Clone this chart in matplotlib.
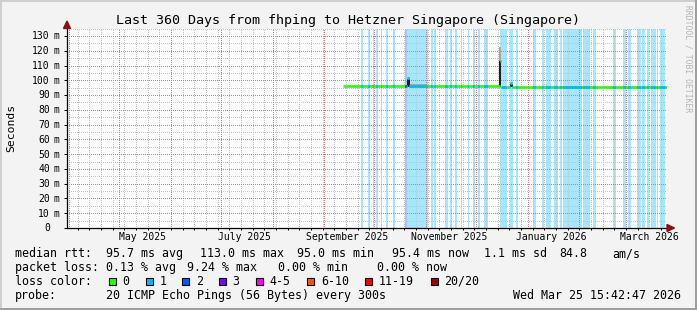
#!/usr/bin/env python
"""Last 360 days latency graph (smokeping style), fhping -> Hetzner Singapore."""

import matplotlib

matplotlib.use("Agg")
import matplotlib.dates as mdates
import matplotlib.pyplot as plt
import matplotlib.transforms as mtransforms
import pandas as pd
from matplotlib.patches import Polygon, Rectangle
from matplotlib.ticker import FixedLocator, MultipleLocator

W, H = 697, 310
MONO = "DejaVu Sans Mono"

END = pd.Timestamp("2026-03-25 15:42:47")
START = END - pd.Timedelta(days=360)

# median rtt (ms), each value held until the next start
median_start = ["2025-09-12 05:00", "2025-10-20 10:00", "2025-10-21 16:00",
                "2025-12-15 04:00", "2025-12-15 20:00", "2025-12-21 10:00",
                "2025-12-22 14:00"]
median_ms = [96.0, 101.5, 96.0, 113.0, 95.3, 98.0, 95.3]

# days with packet loss (pings lost out of 20)
loss_start = ["2025-09-23 00:00", "2025-09-27 00:00", "2025-09-30 00:00",
              "2025-10-02 05:00", "2025-10-04 19:00", "2025-10-08 00:00",
              "2025-10-12 00:00", "2025-10-19 10:00", "2025-10-20 10:00",
              "2025-11-03 19:00", "2025-11-06 00:00", "2025-11-12 10:00",
              "2025-11-15 10:00", "2025-11-18 10:00", "2025-11-21 19:00",
              "2025-11-26 00:00", "2025-11-29 00:00", "2025-12-02 00:00",
              "2025-12-06 00:00", "2025-12-15 10:00", "2025-12-21 10:00",
              "2025-12-24 19:00", "2026-01-04 10:00", "2026-01-09 19:00",
              "2026-01-12 00:00", "2026-01-17 00:00", "2026-01-20 10:00",
              "2026-01-22 10:00", "2026-01-24 00:00", "2026-02-03 10:00",
              "2026-02-09 10:00", "2026-02-21 00:00", "2026-02-27 10:00",
              "2026-03-02 10:00", "2026-03-07 19:00", "2026-03-10 19:00",
              "2026-03-13 10:00", "2026-03-16 05:00", "2026-03-19 10:00",
              "2026-03-21 10:00"]
loss_days = [1.2, 1.2, 0.6, 1.2, 0.6, 1.2, 1.4, 1.0, 12.6, 1.2,
             1.0, 1.8, 1.0, 1.0, 1.0, 0.8, 1.4, 1.4, 2.0, 4.0,
             2.0, 1.2, 1.4, 1.2, 3.0, 2.4, 1.0, 1.4, 9.4, 4.0,
             1.4, 2.0, 1.4, 1.6, 2.2, 1.6, 1.2, 2.6, 1.0, 3.0]
loss_pings = [1, 1, 1, 1, 1, 1, 1, 2, 1, 1,
              1, 1, 1, 1, 1, 1, 1, 1, 1, 1,
              1, 1, 1, 1, 1, 1, 1, 1, 1, 1,
              1, 1, 1, 1, 1, 1, 1, 1, 1, 1]

# smoke (spread of the pings) where it is visible
dense_start = ["2025-10-20 10:00", "2025-12-15 00:00", "2025-12-21 10:00"]
dense_days = [1.8, 1.3, 1.6]
dense_low = [95.5, 95.3, 95.2]
dense_high = [100.8, 113.0, 97.4]

faint_start = ["2025-10-21 14:00", "2025-12-15 00:00"]
faint_days = [10.5, 1.0]
faint_low = [96.4, 113.0]
faint_high = [97.4, 122.7]

y_ticks = list(range(0, 140, 10))
x_label_at = ["2025-05-15", "2025-07-15", "2025-09-15",
              "2025-11-15", "2026-01-15", "2026-03-15"]
x_labels = ["May 2025", "July 2025", "September 2025",
            "November 2025", "January 2026", "March 2026"]

rtt_stats = [95.7, 113.0, 95.0, 95.4]   # avg, max, min, now (ms)
rtt_sd = 1.1
rtt_am = 84.8
loss_stats = [0.13, 9.24, 0.00, 0.00]   # avg, max, min, now (%)

loss_names = ["0", "1", "2", "3", "4-5", "6-10", "11-19", "20/20"]
loss_colors = ["#26ff00", "#00b8ff", "#0059ff", "#7e00ff",
               "#ff00ff", "#ff5500", "#ff0000", "#a10000"]

GRID_MAJOR = "#f07070"
GRID_MINOR = "#c4c4c4"
ARROW = "#8c1010"
YMAX = 135


def fx(px):
    return px / W


def fy(py):
    return 1 - py / H


def num(s):
    return mdates.date2num(pd.to_datetime(s))


fig = plt.figure(figsize=(W / 100, H / 100), dpi=100, facecolor="#f3f3f3")
ax = fig.add_axes([fx(67), fy(228), 600 / W, (228 - 28.6) / H])
ax.set_facecolor("white")
x_lo, x_hi = num(START), num(END)
ax.set_xlim(x_lo, x_hi)
ax.set_ylim(0, YMAX)

# loss background stripes
spans = []
for s, d, n in zip(loss_start, loss_days, loss_pings):
    x0 = num(s)
    sp = ax.axvspan(x0, x0 + d, color=loss_colors[n], alpha=0.35, lw=0, zorder=1)
    spans.append((sp, n))

# grid, dotted 1px on / 1px off (offset keeps dots on whole pixels)
dots = (0.5, (1, 1))
weeks = mdates.WeekdayLocator(byweekday=mdates.SU).tick_values(
    START.to_pydatetime(), END.to_pydatetime())
months = mdates.MonthLocator().tick_values(START.to_pydatetime(), END.to_pydatetime())
weeks = [w for w in weeks if x_lo < w < x_hi]
months = [m for m in months if x_lo < m < x_hi]
y_minor = MultipleLocator(5).tick_values(0, YMAX)
y_minor = [v for v in y_minor if 0 < v <= YMAX and v % 10]
y_major = [v for v in y_ticks if v > 0]

ax.vlines(weeks, 0, YMAX, colors=GRID_MINOR, linestyles=[dots], lw=0.72, zorder=1.5)
ax.hlines(y_minor, x_lo, x_hi, colors=GRID_MINOR, linestyles=[dots], lw=0.72, zorder=1.5)
ax.vlines(months, 0, YMAX, colors=GRID_MAJOR, linestyles=[dots], lw=0.72, zorder=1.6)
ax.hlines(y_major, x_lo, x_hi, colors=GRID_MAJOR, linestyles=[dots], lw=0.72, zorder=1.6)

# smoke
ax.bar(num(faint_start), [h - l for h, l in zip(faint_high, faint_low)],
       width=faint_days, bottom=faint_low, align="edge", color="#a8a8a8",
       lw=0, zorder=2.5)
ax.bar(num(dense_start), [h - l for h, l in zip(dense_high, dense_low)],
       width=dense_days, bottom=dense_low, align="edge", color="#1e1e1e",
       lw=0, zorder=2.6)

# median line, green where no loss, loss colour inside loss stripes
m0 = num(median_start)
m1 = list(m0[1:]) + [x_hi]
ax.hlines(median_ms, m0, m1, colors=loss_colors[0], lw=1.9, zorder=3)
for sp, n in spans:
    lc = ax.hlines(median_ms, m0, m1, colors=loss_colors[n], lw=1.9, zorder=3.1)
    lc.set_clip_path(sp)

# axes frame, ticks
for side in ("top", "right"):
    ax.spines[side].set_visible(False)
for side in ("left", "bottom"):
    ax.spines[side].set_color("black")
    ax.spines[side].set_linewidth(0.9)
ax.set_yticks(y_ticks)
ax.xaxis.set_major_locator(FixedLocator(num(x_label_at)))
ax.set_xticklabels(x_labels)
ax.xaxis.set_minor_locator(FixedLocator(weeks))
ax.tick_params(axis="y", which="major", length=3 * 0.72, width=0.72,
               labelleft=False)
ax.tick_params(axis="x", which="major", length=0, pad=3.0, labelsize=7.05)
ax.tick_params(axis="x", which="minor", length=2 * 0.72, width=0.72)
for lab in ax.get_xticklabels():
    lab.set_family(MONO)

ylab_tr = mtransforms.blended_transform_factory(fig.transFigure, ax.transData)
ylab_tr = ylab_tr + mtransforms.ScaledTranslation(0, -3.4 / 100, fig.dpi_scale_trans)
for v in y_ticks:
    ax.text(fx(49.8), v, f"{v}", transform=ylab_tr, ha="right", va="baseline",
            family=MONO, size=7.05, clip_on=False)
    if v:
        ax.text(fx(53.8), v, "m", transform=ylab_tr, ha="left", va="baseline",
                family=MONO, size=7.05, clip_on=False)

# arrows
fig.patches.append(Polygon([(fx(63.5), fy(28.5)), (fx(70.5), fy(28.5)), (fx(67), fy(21))],
                           closed=True, color=ARROW, transform=fig.transFigure))
fig.patches.append(Polygon([(fx(667), fy(224.5)), (fx(667), fy(231.5)), (fx(674.5), fy(228))],
                           closed=True, color=ARROW, transform=fig.transFigure))

# titles
fig.text(fx(347.5), fy(24), "Last 360 Days from fhping to Hetzner Singapore (Singapore)",
         ha="center", va="baseline", family=MONO, size=9.6)
fig.text(fx(11), fy(128), "Seconds", rotation=90, ha="center", va="center",
         family=MONO, size=8.2)
fig.text(fx(688.3), fy(59), "RRDTOOL / TOBI OETIKER", rotation=270, ha="center",
         va="center", family=MONO, size=5.8, color="#b4b4b4")

# legend
LS = 8.41
rows = [257.3, 271.1, 284.9, 298.7]
line1 = [(16, "median rtt:"),
         (107.3, f"{rtt_stats[0]:.1f} ms avg"),
         (200.7, f"{rtt_stats[1]:.1f} ms max"),
         (297.7, f"{rtt_stats[2]:.1f} ms min"),
         (393.3, f"{rtt_stats[3]:.1f} ms now"),
         (485.0, f"{rtt_sd:.1f} ms sd"),
         (560.0, f"{rtt_am:.1f}"),
         (613.3, "am/s")]
line2 = [(16, "packet loss:"),
         (107.3, f"{loss_stats[0]:.2f} % avg"),
         (188.3, f"{loss_stats[1]:.2f} % max"),
         (279.3, f"{loss_stats[2]:.2f} % min"),
         (377.7, f"{loss_stats[3]:.2f} % now")]
line4 = [(16, "probe:"),
         (107.3, "20 ICMP Echo Pings (56 Bytes) every 300s")]
for row, items in ((rows[0], line1), (rows[1], line2), (rows[3], line4)):
    for x, t in items:
        fig.text(fx(x - 0.8), fy(row), t, ha="left", va="baseline",
                 family=MONO, size=LS)
fig.text(fx(681), fy(rows[3]), "Wed Mar 25 15:42:47 2026", ha="right",
         va="baseline", family=MONO, size=LS)

fig.text(fx(15.2), fy(rows[2]), "loss color:", ha="left", va="baseline",
         family=MONO, size=LS)
box_x = [109, 145.7, 182.3, 219, 256, 307.3, 365, 430.7]
for bx, name, col in zip(box_x, loss_names, loss_colors):
    fig.patches.append(Rectangle((fx(bx), fy(284.8)), 7 / W, 7 / H, facecolor=col,
                                 edgecolor="black", lw=0.8,
                                 transform=fig.transFigure))
    fig.text(fx(bx + 13.6), fy(rows[2]), name, ha="left", va="baseline",
             family=MONO, size=LS)

# 3d frame
fig.patches.append(Rectangle((0, 0), fx(2), 1, color="#cfcfcf", lw=0,
                             transform=fig.transFigure))
fig.patches.append(Rectangle((0, fy(2)), 1, 2 / H, color="#cfcfcf", lw=0,
                             transform=fig.transFigure))
fig.patches.append(Rectangle((fx(W - 2), 0), 2 / W, 1, color="#9e9e9e", lw=0,
                             transform=fig.transFigure))
fig.patches.append(Rectangle((0, 0), 1, 2 / H, color="#9e9e9e", lw=0,
                             transform=fig.transFigure))

fig.savefig("out.png", dpi=100, facecolor=fig.get_facecolor())
